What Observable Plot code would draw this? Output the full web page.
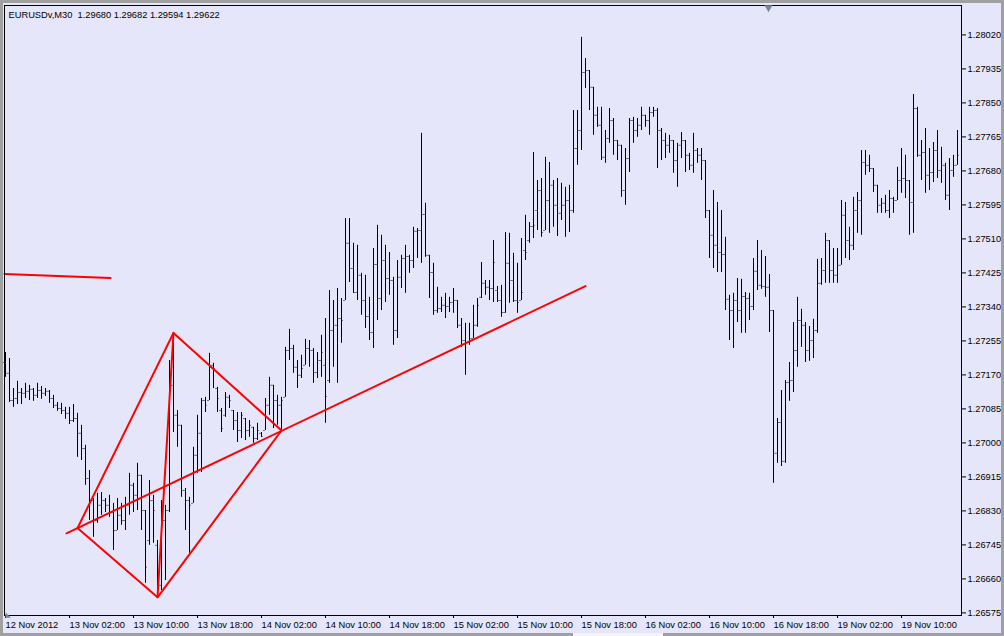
<!DOCTYPE html>
<html><head><meta charset="utf-8">
<script src="https://cdn.jsdelivr.net/npm/d3@7"></script>
<script src="https://cdn.jsdelivr.net/npm/@observablehq/plot@0.6"></script>
<style>
html,body{margin:0;padding:0;background:#e6e6fa;}
#wrap{position:relative;width:1004px;height:636px;overflow:hidden;}
#wrap svg{display:block;position:absolute;left:0;top:0;}
.edge{position:absolute;background:#a0a0a0;}
</style></head><body><div id="wrap"></div>
<script>
const title = "EURUSDv,M30  1.29680 1.29682 1.29594 1.29622";

const open = [1.27201,1.27174,1.27106,1.27111,1.27126,1.27124,1.27129,1.27134,1.27119,1.27131,
1.27124,1.27129,1.27111,1.27094,1.27086,1.27081,1.27074,1.27056,1.27061,1.27024,
1.26986,1.26911,1.26856,1.26806,1.26844,1.26856,1.26844,1.26826,1.26781,1.26819,
1.26806,1.26844,1.26894,1.26869,1.26919,1.26831,1.26756,1.26856,1.26744,1.26644,
1.26806,1.26831,1.27144,1.27069,1.27044,1.26881,1.26856,1.26849,1.26969,1.27024,
1.27106,1.27106,1.27194,1.27136,1.27081,1.27069,1.27114,1.27081,1.27056,1.27031,
1.27061,1.27031,1.27039,1.27011,1.27024,1.27031,1.27094,1.27144,1.27106,1.27094,
1.27114,1.27231,1.27236,1.27189,1.27169,1.27194,1.27236,1.27231,1.27176,1.27206,
1.27194,1.27156,1.27281,1.27294,1.27311,1.27356,1.27499,1.27436,1.27376,1.27419,
1.27356,1.27316,1.27276,1.27446,1.27361,1.27456,1.27411,1.27406,1.27281,1.27414,
1.27461,1.27466,1.27456,1.27529,1.27531,1.27571,1.27469,1.27426,1.27331,1.27336,
1.27344,1.27341,1.27351,1.27356,1.27294,1.27256,1.27251,1.27261,1.27294,1.27364,
1.27399,1.27389,1.27386,1.27381,1.27356,1.27326,1.27449,1.27406,1.27356,1.27356,
1.27481,1.27506,1.27541,1.27581,1.27631,1.27531,1.27606,1.27644,1.27594,1.27574,
1.27594,1.27606,1.27581,1.27736,1.27781,1.27926,1.27931,1.27889,1.27819,1.27794,
1.27714,1.27761,1.27806,1.27756,1.27744,1.27631,1.27711,1.27806,1.27781,1.27794,
1.27819,1.27806,1.27826,1.27831,1.27781,1.27756,1.27744,1.27756,1.27706,1.27744,
1.27756,1.27719,1.27694,1.27731,1.27719,1.27706,1.27581,1.27519,1.27494,1.27476,
1.27471,1.27359,1.27331,1.27356,1.27331,1.27366,1.27361,1.27341,1.27429,1.27394,
1.27391,1.27389,1.27331,1.26974,1.27051,1.26954,1.27151,1.27156,1.27231,1.27306,
1.27294,1.27231,1.27256,1.27281,1.27399,1.27431,1.27506,1.27431,1.27419,1.27444,
1.27569,1.27506,1.27494,1.27581,1.27606,1.27701,1.27694,1.27686,1.27644,1.27594,
1.27599,1.27581,1.27611,1.27606,1.27656,1.27661,1.27656,1.27601,1.27836,1.27719,
1.27726,1.27669,1.27676,1.27731,1.27681,1.27694,1.27619,1.27681,1.27694];

const high = [1.27226,1.27211,1.27136,1.27154,1.27136,1.27149,1.27144,1.27136,1.27149,1.27141,
1.27136,1.27131,1.27119,1.27101,1.27099,1.27089,1.27089,1.27096,1.27074,1.27044,
1.26994,1.26931,1.26861,1.26874,1.26876,1.26861,1.26869,1.26849,1.26861,1.26849,
1.26864,1.26924,1.26899,1.26949,1.26919,1.26831,1.26906,1.26869,1.26756,1.26856,
1.26844,1.27206,1.27274,1.27081,1.27044,1.26886,1.26864,1.26989,1.27069,1.27111,
1.27114,1.27224,1.27199,1.27139,1.27086,1.27126,1.27119,1.27081,1.27076,1.27076,
1.27061,1.27056,1.27039,1.27049,1.27026,1.27111,1.27164,1.27144,1.27119,1.27114,
1.27239,1.27284,1.27244,1.27206,1.27219,1.27259,1.27256,1.27236,1.27226,1.27269,
1.27311,1.27381,1.27356,1.27386,1.27361,1.27561,1.27561,1.27499,1.27494,1.27424,
1.27419,1.27364,1.27486,1.27544,1.27519,1.27494,1.27476,1.27414,1.27456,1.27469,
1.27494,1.27469,1.27539,1.27536,1.27774,1.27599,1.27469,1.27449,1.27389,1.27364,
1.27374,1.27364,1.27386,1.27356,1.27311,1.27299,1.27299,1.27344,1.27361,1.27451,
1.27406,1.27406,1.27506,1.27391,1.27394,1.27526,1.27524,1.27474,1.27449,1.27511,
1.27569,1.27551,1.27726,1.27656,1.27661,1.27714,1.27701,1.27656,1.27661,1.27649,
1.27639,1.27644,1.27831,1.27831,1.28014,1.27961,1.27931,1.27889,1.27839,1.27839,
1.27781,1.27836,1.27811,1.27756,1.27744,1.27736,1.27811,1.27814,1.27811,1.27839,
1.27819,1.27839,1.27839,1.27836,1.27786,1.27774,1.27769,1.27756,1.27749,1.27776,
1.27756,1.27724,1.27774,1.27736,1.27736,1.27706,1.27581,1.27631,1.27601,1.27581,
1.27514,1.27369,1.27374,1.27411,1.27409,1.27376,1.27374,1.27461,1.27506,1.27481,
1.27466,1.27421,1.27331,1.27061,1.27131,1.27156,1.27201,1.27301,1.27364,1.27334,
1.27301,1.27291,1.27309,1.27459,1.27461,1.27524,1.27506,1.27486,1.27486,1.27606,
1.27601,1.27539,1.27614,1.27626,1.27731,1.27731,1.27719,1.27686,1.27644,1.27611,
1.27619,1.27631,1.27614,1.27689,1.27736,1.27719,1.27656,1.27871,1.27839,1.27756,
1.27786,1.27736,1.27751,1.27781,1.27739,1.27699,1.27711,1.27719,1.27781];

const low = [1.27164,1.27101,1.27089,1.27096,1.27096,1.27111,1.27106,1.27104,1.27111,1.27109,
1.27116,1.27099,1.27086,1.27079,1.27071,1.27059,1.27046,1.27051,1.26964,1.26956,
1.26894,1.26806,1.26764,1.26799,1.26819,1.26826,1.26814,1.26731,1.26781,1.26794,
1.26781,1.26819,1.26826,1.26831,1.26781,1.26649,1.26744,1.26749,1.26614,1.26631,
1.26656,1.26826,1.27026,1.26989,1.26864,1.26781,1.26724,1.26849,1.26924,1.26926,
1.27076,1.27106,1.27136,1.27076,1.27026,1.27064,1.27086,1.27031,1.27001,1.27011,
1.27006,1.27014,1.26999,1.27006,1.27014,1.27031,1.27069,1.27036,1.27044,1.27031,
1.27114,1.27206,1.27174,1.27136,1.27161,1.27194,1.27189,1.27149,1.27161,1.27164,
1.27049,1.27149,1.27189,1.27149,1.27249,1.27356,1.27401,1.27374,1.27356,1.27319,
1.27286,1.27256,1.27236,1.27306,1.27331,1.27351,1.27369,1.27244,1.27261,1.27386,
1.27374,1.27424,1.27436,1.27461,1.27449,1.27464,1.27361,1.27319,1.27324,1.27326,
1.27311,1.27326,1.27324,1.27286,1.27239,1.27169,1.27244,1.27261,1.27289,1.27361,
1.27369,1.27356,1.27351,1.27351,1.27314,1.27324,1.27349,1.27351,1.27324,1.27356,
1.27456,1.27499,1.27511,1.27531,1.27514,1.27531,1.27524,1.27539,1.27516,1.27556,
1.27514,1.27526,1.27574,1.27694,1.27731,1.27886,1.27831,1.27769,1.27789,1.27706,
1.27699,1.27749,1.27719,1.27706,1.27614,1.27594,1.27676,1.27749,1.27764,1.27781,
1.27789,1.27769,1.27814,1.27686,1.27706,1.27711,1.27724,1.27674,1.27639,1.27711,
1.27676,1.27681,1.27674,1.27699,1.27656,1.27561,1.27461,1.27436,1.27426,1.27426,
1.27331,1.27256,1.27236,1.27301,1.27274,1.27274,1.27306,1.27331,1.27381,1.27384,
1.27364,1.27276,1.26899,1.26949,1.26941,1.26949,1.27104,1.27126,1.27189,1.27239,
1.27201,1.27204,1.27211,1.27274,1.27394,1.27399,1.27399,1.27399,1.27399,1.27444,
1.27461,1.27456,1.27481,1.27524,1.27519,1.27669,1.27676,1.27626,1.27574,1.27574,
1.27574,1.27561,1.27574,1.27606,1.27624,1.27611,1.27519,1.27524,1.27714,1.27656,
1.27624,1.27631,1.27651,1.27661,1.27649,1.27606,1.27581,1.27664,1.27694];

const close = [1.27174,1.27106,1.27111,1.27126,1.27124,1.27129,1.27134,1.27119,1.27131,1.27124,
1.27129,1.27111,1.27094,1.27086,1.27081,1.27074,1.27056,1.27061,1.27024,1.26986,
1.26911,1.26856,1.26806,1.26844,1.26856,1.26844,1.26826,1.26781,1.26819,1.26806,
1.26844,1.26894,1.26869,1.26919,1.26831,1.26689,1.26856,1.26831,1.26644,1.26806,
1.26831,1.27144,1.27069,1.27044,1.26881,1.26856,1.26844,1.26969,1.27024,1.27106,
1.27094,1.27194,1.27186,1.27111,1.27036,1.27114,1.27106,1.27056,1.27031,1.27069,
1.27031,1.27044,1.27011,1.27031,1.27016,1.27094,1.27144,1.27106,1.27094,1.27106,
1.27231,1.27236,1.27189,1.27169,1.27186,1.27236,1.27231,1.27176,1.27206,1.27226,
1.27116,1.27281,1.27294,1.27311,1.27306,1.27499,1.27436,1.27376,1.27419,1.27356,
1.27316,1.27276,1.27446,1.27361,1.27456,1.27411,1.27406,1.27281,1.27414,1.27461,
1.27466,1.27456,1.27529,1.27531,1.27571,1.27469,1.27426,1.27331,1.27336,1.27344,
1.27341,1.27351,1.27356,1.27294,1.27256,1.27251,1.27261,1.27294,1.27344,1.27399,
1.27389,1.27386,1.27451,1.27356,1.27326,1.27449,1.27406,1.27356,1.27351,1.27376,
1.27476,1.27541,1.27544,1.27631,1.27526,1.27606,1.27644,1.27594,1.27574,1.27594,
1.27606,1.27581,1.27736,1.27781,1.27926,1.27931,1.27889,1.27819,1.27794,1.27714,
1.27761,1.27806,1.27756,1.27744,1.27631,1.27711,1.27806,1.27781,1.27794,1.27819,
1.27806,1.27826,1.27831,1.27781,1.27756,1.27744,1.27756,1.27706,1.27744,1.27756,
1.27719,1.27694,1.27731,1.27719,1.27706,1.27581,1.27519,1.27494,1.27476,1.27471,
1.27359,1.27331,1.27356,1.27331,1.27366,1.27361,1.27341,1.27429,1.27394,1.27391,
1.27389,1.27331,1.26974,1.27051,1.26954,1.27151,1.27156,1.27231,1.27306,1.27294,
1.27231,1.27256,1.27281,1.27399,1.27431,1.27506,1.27431,1.27419,1.27444,1.27569,
1.27506,1.27494,1.27581,1.27606,1.27701,1.27694,1.27686,1.27644,1.27594,1.27599,
1.27581,1.27611,1.27606,1.27656,1.27661,1.27656,1.27601,1.27836,1.27719,1.27726,
1.27669,1.27676,1.27731,1.27681,1.27694,1.27619,1.27681,1.27694,1.27719];

// time axis: bar index of each labelled time, and its label
const xTickIndex = [0,16,32,48,64,80,96,112,128,144,160,176,192,208,224];
const xTickLabels = ["12 Nov 2012","13 Nov 02:00","13 Nov 10:00","13 Nov 18:00","14 Nov 02:00",
  "14 Nov 10:00","14 Nov 18:00","15 Nov 02:00","15 Nov 10:00","15 Nov 18:00","16 Nov 02:00",
  "16 Nov 10:00","16 Nov 18:00","19 Nov 02:00","19 Nov 10:00"];
// price axis
const yTicks = [1.28020,1.27935,1.27850,1.27765,1.27680,1.27595,1.27510,1.27425,1.27340,
  1.27255,1.27170,1.27085,1.27000,1.26915,1.26830,1.26745,1.26660,1.26575];

// drawn objects (bar index, price)
const trendX = [-0.25, 26.25];
const trendP = [1.27422, 1.27412];
const shapeX = [18, 42, 69, 38, 18];
const shapeP = [1.26787, 1.27275, 1.27031, 1.26614, 1.26787];
const diagX = [42, 38];
const diagP = [1.27275, 1.26614];
const rayX = [15.25, 145];
const rayP = [1.26774, 1.27392];
const shiftMarkX = [190.75];

const bars = open.map((o, i) => ({i, open: o, high: high[i], low: low[i], close: close[i]}));
const pts = (xs, ps) => xs.map((x, k) => ({x, p: ps[k]}));
const FONT = "'Liberation Sans', Arial, sans-serif";

const chart = Plot.plot({
  width: 1004, height: 636,
  marginLeft: 4, marginRight: 43, marginTop: 5, marginBottom: 21,
  x: {domain: [-0.25, 239], axis: null},
  y: {domain: [1.265685, 1.280935], axis: null},
  style: {background: "#e6e6fa", fontFamily: FONT, fontSize: "9.3px", color: "black", overflow: "visible"},
  marks: [
    Plot.ruleX(bars, {x: "i", y1: "low", y2: "high", stroke: "black", strokeWidth: 1}),
    Plot.ruleY(bars, {y: "open", x1: d => d.i - 0.375, x2: d => d.i - 0.125, stroke: "black", strokeWidth: 1}),
    Plot.ruleY(bars, {y: "close", x1: d => d.i + 0.125, x2: d => d.i + 0.375, stroke: "black", strokeWidth: 1}),
    Plot.line(pts(trendX, trendP), {x: "x", y: "p", stroke: "red", strokeWidth: 2}),
    Plot.line(pts(shapeX, shapeP), {x: "x", y: "p", stroke: "red", strokeWidth: 2}),
    Plot.line(pts(diagX, diagP), {x: "x", y: "p", stroke: "red", strokeWidth: 2}),
    Plot.line(pts(rayX, rayP), {x: "x", y: "p", stroke: "red", strokeWidth: 2}),
    Plot.frame({stroke: "black"}),
    Plot.axisY(yTicks, {anchor: "right", tickSize: 4, tickPadding: 2, textAnchor: "start",
      tickFormat: d => d.toFixed(5), fontSize: 9.3}),
    Plot.axisX(xTickIndex, {anchor: "bottom", tickSize: 3, tickPadding: 3, textAnchor: "start",
      tickFormat: d => xTickLabels[xTickIndex.indexOf(d)], fontSize: 9.3}),
    Plot.dot(shiftMarkX, {x: d => d, frameAnchor: "top", symbol: "triangle", rotate: 180, r: 3, dy: 2, fill: "#7a8896", stroke: null}),
    Plot.text(["\u25E3"], {frameAnchor: "bottom-left", dx: 1, dy: 1, lineAnchor: "bottom", textAnchor: "start",
      fontSize: 7, fill: "#7a8896", fontFamily: "DejaVu Sans"}),
    Plot.text([title], {frameAnchor: "top-left", dx: 4, dy: 6, textAnchor: "start", lineAnchor: "top",
      text: d => d.replace(/  /g, " \u00a0"), fontSize: 9.3, fill: "black"})
  ]
});
const wrap = document.getElementById("wrap");
wrap.appendChild(chart);
// window border
for (const [l, t, w, h, c] of [[0,0,1004,3,"#a0a0a0"],[0,0,3,636,"#a0a0a0"],[1001,0,3,636,"#a0a0a0"],
                               [0,633,1004,3,"#a0a0a0"],[573,633,90,3,"#f4f4f4"]]) {
  const e = document.createElement("div");
  e.className = "edge";
  e.style.cssText = `left:${l}px;top:${t}px;width:${w}px;height:${h}px;background:${c};`;
  wrap.appendChild(e);
}
</script></body></html>
